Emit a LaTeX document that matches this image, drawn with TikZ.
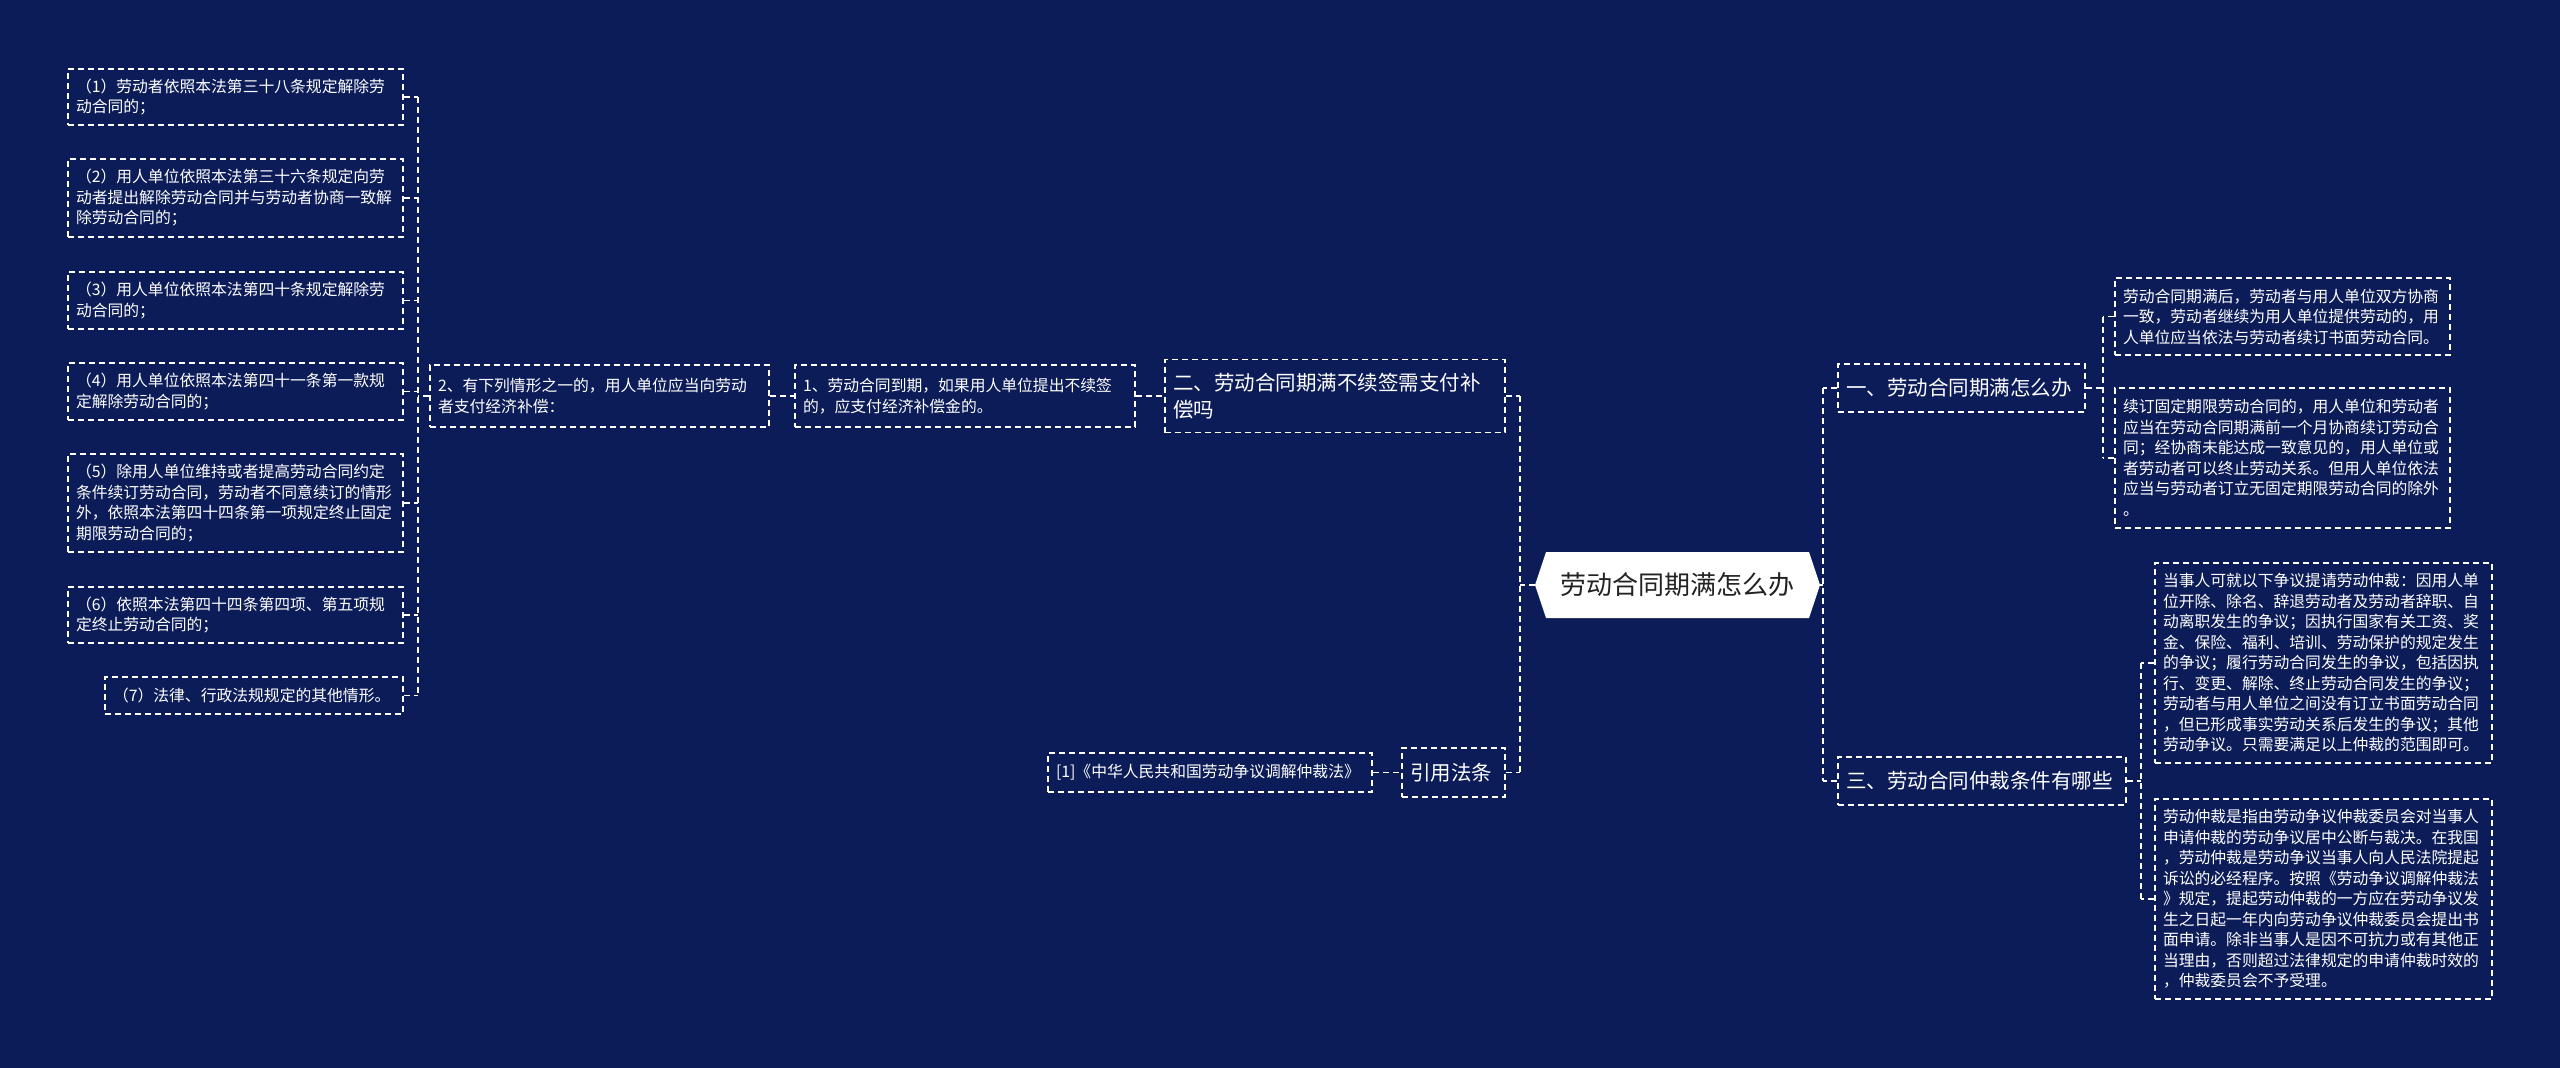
\documentclass[tikz,border=0pt]{standalone}
\usepackage{fontspec}
\setmainfont{Noto Sans CJK SC}
\definecolor{bg}{RGB}{12,28,88}
\definecolor{roottext}{RGB}{34,34,34}
\begin{document}
\begin{tikzpicture}[x=1pt,y=-1pt,
  box/.style={draw=white, line width=1.5pt, dash pattern=on 6pt off 4pt, text=white, inner xsep=8pt, inner ysep=0pt, align=left, anchor=center},
  leaf/.style={box, font=\fontsize{15.8}{20.5}\selectfont},
  mid/.style={box, font=\fontsize{20.5}{27}\selectfont},
  conn/.style={draw=white, line width=1.5pt, dash pattern=on 6pt off 4pt},
]
\fill[bg] (0,0) rectangle (2560,1068);
\useasboundingbox (0,0) rectangle (2560,1068);

% bus coordinates
\coordinate (bA) at (418,0);
\coordinate (bL) at (1520,0);
\coordinate (bR) at (1823,0);
\coordinate (bR1) at (2103,0);
\coordinate (bR3) at (2141,0);

% root
\fill[white] (1535,585) -- (1546,552) -- (1809,552) -- (1820,585) -- (1809,618) -- (1546,618) -- cycle;
\node[minimum width=285pt, minimum height=66pt, inner sep=0pt, text=roottext, font=\fontsize{26}{30}\selectfont] (root) at (1677.5,585) {劳动合同期满怎么办};

% left side
\node[mid, minimum width=340pt, minimum height=73pt, text width=324pt] (er) at (1335,396) {二、劳动合同期满不续签需支付补\\偿吗};
\node[leaf, minimum width=340pt, minimum height=62pt, text width=324pt] (one) at (965,396) {1、劳动合同到期，如果用人单位提出不续签\\的，应支付经济补偿金的。};
\node[leaf, minimum width=339pt, minimum height=62pt, text width=323pt] (two) at (599.5,396) {2、有下列情形之一的，用人单位应当向劳动\\者支付经济补偿：};

\node[leaf, minimum width=335pt, minimum height=56pt, text width=319pt] (l1) at (235.5,97) {（1）劳动者依照本法第三十八条规定解除劳\\动合同的；};
\node[leaf, minimum width=335pt, minimum height=78pt, text width=319pt] (l2) at (235.5,198) {（2）用人单位依照本法第三十六条规定向劳\\动者提出解除劳动合同并与劳动者协商一致解\\除劳动合同的；};
\node[leaf, minimum width=335pt, minimum height=57pt, text width=319pt] (l3) at (235.5,300.5) {（3）用人单位依照本法第四十条规定解除劳\\动合同的；};
\node[leaf, minimum width=335pt, minimum height=57pt, text width=319pt] (l4) at (235.5,391.5) {（4）用人单位依照本法第四十一条第一款规\\定解除劳动合同的；};
\node[leaf, minimum width=335pt, minimum height=98pt, text width=319pt] (l5) at (235.5,503) {（5）除用人单位维持或者提高劳动合同约定\\条件续订劳动合同，劳动者不同意续订的情形\\外，依照本法第四十四条第一项规定终止固定\\期限劳动合同的；};
\node[leaf, minimum width=335pt, minimum height=56pt, text width=319pt] (l6) at (235.5,615) {（6）依照本法第四十四条第四项、第五项规\\定终止劳动合同的；};
\node[leaf, minimum width=298pt, minimum height=37pt, text width=282pt] (l7) at (254,695.5) {（7）法律、行政法规规定的其他情形。};

\node[mid, minimum width=103pt, minimum height=49pt, text width=87pt] (yin) at (1453.5,772.5) {引用法条};
\node[leaf, minimum width=324pt, minimum height=39pt, text width=308pt] (ref) at (1210,772.5) {[1]《中华人民共和国劳动争议调解仲裁法》};

% right side
\node[mid, minimum width=247pt, minimum height=48pt, text width=231pt] (yi) at (1961.5,388) {一、劳动合同期满怎么办};
\node[mid, minimum width=288pt, minimum height=48pt, text width=272pt] (san) at (1982,781) {三、劳动合同仲裁条件有哪些};

\node[leaf, minimum width=335pt, minimum height=77pt, text width=319pt] (r1) at (2282.5,316.5) {劳动合同期满后，劳动者与用人单位双方协商\\一致，劳动者继续为用人单位提供劳动的，用\\人单位应当依法与劳动者续订书面劳动合同。};
\node[leaf, minimum width=335pt, minimum height=140pt, text width=319pt] (r2) at (2282.5,458) {续订固定期限劳动合同的，用人单位和劳动者\\应当在劳动合同期满前一个月协商续订劳动合\\同；经协商未能达成一致意见的，用人单位或\\者劳动者可以终止劳动关系。但用人单位依法\\应当与劳动者订立无固定期限劳动合同的除外\\。};
\node[leaf, minimum width=337pt, minimum height=200pt, text width=321pt] (r3) at (2323.5,663) {当事人可就以下争议提请劳动仲裁：因用人单\\位开除、除名、辞退劳动者及劳动者辞职、自\\动离职发生的争议；因执行国家有关工资、奖\\金、保险、福利、培训、劳动保护的规定发生\\的争议；履行劳动合同发生的争议，包括因执\\行、变更、解除、终止劳动合同发生的争议；\\劳动者与用人单位之间没有订立书面劳动合同\\，但已形成事实劳动关系后发生的争议；其他\\劳动争议。只需要满足以上仲裁的范围即可。};
\node[leaf, minimum width=337pt, minimum height=200pt, text width=321pt] (r4) at (2323.5,899) {劳动仲裁是指由劳动争议仲裁委员会对当事人\\申请仲裁的劳动争议居中公断与裁决。在我国\\，劳动仲裁是劳动争议当事人向人民法院提起\\诉讼的必经程序。按照《劳动争议调解仲裁法\\》规定，提起劳动仲裁的一方应在劳动争议发\\生之日起一年内向劳动争议仲裁委员会提出书\\面申请。除非当事人是因不可抗力或有其他正\\当理由，否则超过法律规定的申请仲裁时效的\\，仲裁委员会不予受理。};

% connectors: root left
\draw[conn] (er.east -| bL) -- (yin.east -| bL);
\draw[conn] (root.west) -- (root.west -| bL);
\draw[conn] (er.east) -- (er.east -| bL);
\draw[conn] (yin.east) -- (yin.east -| bL);
\draw[conn] (ref.east) -- (yin.west);
\draw[conn] (one.east) -- (er.west);
\draw[conn] (two.east) -- (one.west);
% 2、 leaves
\draw[conn] (l1.east -| bA) -- (l7.east -| bA);
\draw[conn] (two.west) -- (two.west -| bA);
\foreach \n in {l1,l2,l3,l4,l5,l6,l7} \draw[conn] (\n.east) -- (\n.east -| bA);
% root right
\draw[conn] (yi.west -| bR) -- (san.west -| bR);
\draw[conn] (root.east) -- (root.east -| bR);
\draw[conn] (yi.west) -- (yi.west -| bR);
\draw[conn] (san.west) -- (san.west -| bR);
% 一、 leaves
\draw[conn] (r1.west -| bR1) -- (r2.west -| bR1);
\draw[conn] (yi.east) -- (yi.east -| bR1);
\draw[conn] (r1.west) -- (r1.west -| bR1);
\draw[conn] (r2.west) -- (r2.west -| bR1);
% 三、 leaves
\draw[conn] (r3.west -| bR3) -- (r4.west -| bR3);
\draw[conn] (san.east) -- (san.east -| bR3);
\draw[conn] (r3.west) -- (r3.west -| bR3);
\draw[conn] (r4.west) -- (r4.west -| bR3);
\end{tikzpicture}
\end{document}
